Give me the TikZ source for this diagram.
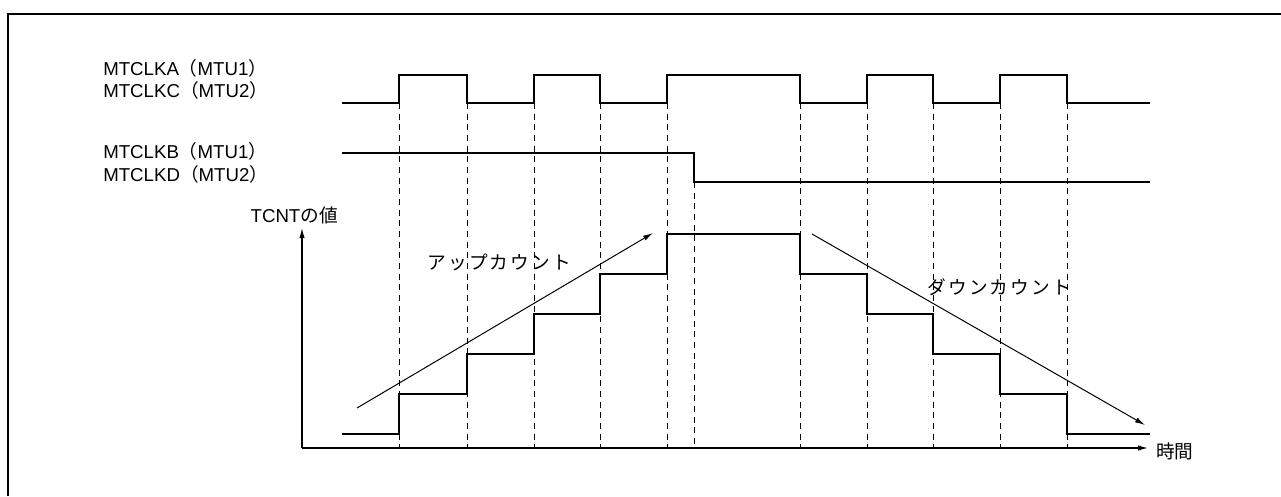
\documentclass[tikz,border=0pt]{standalone}
\usepackage{fontspec}
\setmainfont{Liberation Sans}
\newfontfamily\cjk{Noto Sans CJK JP}
\newfontfamily\cjkwide[LetterSpace=12]{Noto Sans CJK JP}
\usetikzlibrary{arrows.meta}
\newcommand\jtext[1]{{\cjk #1}}

\begin{document}
\begin{tikzpicture}[x=0.75pt,y=-0.75pt,>={Latex[length=7.5pt,width=4pt]},
 every node/.style={font=\fontsize{14}{16}\selectfont,inner sep=0pt},
 sig/.style={line width=1.6pt},
 guide/.style={line width=0.7pt,dash pattern=on 4.5pt off 3.5pt},
 axis/.style={->,line width=0.9pt},
 trend/.style={->,line width=0.75pt}]
    \useasboundingbox (0,0) rectangle (1281,496);
    % frame
    \draw[line width=2.2pt] (8,496) -- (8,14) -- (1281,14);

    % signal names
    \node[anchor=base west] (nameA) at (103,75) {MTCLKA\jtext{（}MTU1\jtext{）}};
    \node[anchor=base west] (nameC) at (103,97) {MTCLKC\jtext{（}MTU2\jtext{）}};
    \node[anchor=base west] (nameB) at (103,158) {MTCLKB\jtext{（}MTU1\jtext{）}};
    \node[anchor=base west] (nameD) at (103,181) {MTCLKD\jtext{（}MTU2\jtext{）}};
    \node[anchor=base east] (cnt) at (338,222) {TCNT\jtext{の値}};
    \node[anchor=west] (time) at (1156,451) {\jtext{時間}};
    \node[anchor=west] (uplbl) at (427,262) {\cjkwide アップカウント};
    \node[anchor=west] (dnlbl) at (927,287) {\cjkwide ダウンカウント};

    % edge guides
    \foreach \x in {399,467,534,600,667,800,867,933,1000,1067}
      \draw[guide] (\x,103) -- (\x,448);
    \draw[guide] (694,182) -- (694,448);

    % waveforms
    \draw[sig] (342,103) -| (399,75) -| (467,103) -| (534,75) -| (600,103)
      -| (667,75) -| (800,103) -| (867,75) -| (933,103) -| (1000,75)
      -| (1067,103) -- (1150,103);
    \draw[sig] (342,153) -| (694,182) -- (1150,182);
    \draw[sig] (342,434) -| (399,394) -| (467,354) -| (534,314) -| (600,274)
      -| (667,234) -| (800,274) -| (867,314) -| (933,354) -| (1000,394)
      -| (1067,434) -- (1150,434);

    % axes
    \coordinate (o) at (302,448);
    \coordinate (ytip) at (302,228);
    \coordinate (xtip) at (1148,448);
    \draw[axis] (o) -- (ytip);
    \draw[axis] (o) -- (xtip);

    % count direction
    \coordinate (up0) at (357,408);
    \coordinate (up1) at (653,233);
    \coordinate (dn0) at (812,234);
    \coordinate (dn1) at (1145,425);
    \draw[trend] (up0) -- (up1);
    \draw[trend] (dn0) -- (dn1);
\end{tikzpicture}
\end{document}
